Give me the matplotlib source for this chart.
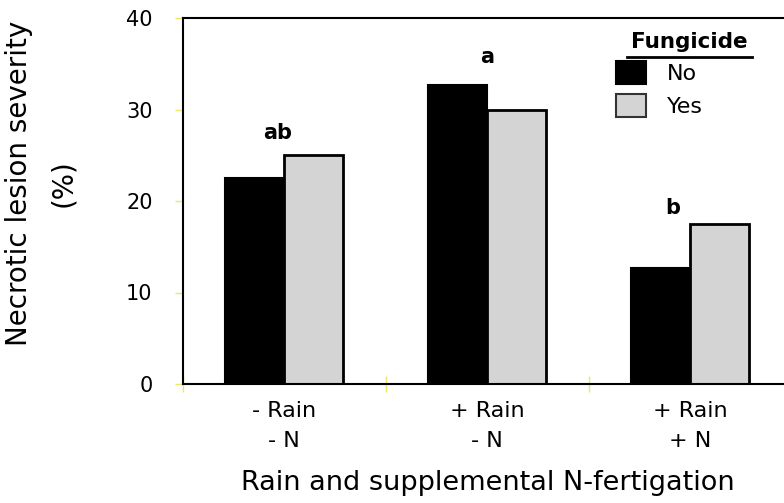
import numpy as np
import matplotlib.pyplot as plt
from matplotlib.patches import Patch

plt.rcParams['font.family'] = ['DejaVu Sans']

# data
groups = ["- Rain\n- N", "+ Rain\n- N", "+ Rain\n+ N"]
no_fungicide = [22.5, 32.7, 12.7]
yes_fungicide = [25.0, 30.0, 17.5]
letters = ["ab", "a", "b"]
letter_y = [26.3, 34.6, 18.1]
y_ticks = [0, 10, 20, 30, 40]

W, H = 784, 503
fig = plt.figure(figsize=(W / 100, H / 100), dpi=100)
ax = fig.add_axes([182.5 / W, (H - 384) / H, 609 / W, 366 / H])

x = np.arange(len(groups)) + 0.5
bw = 0.29
ax.bar(x - bw / 2, no_fungicide, bw, color="black", edgecolor="black", lw=1.5)
ax.bar(x + bw / 2, yes_fungicide, bw, color="#d4d4d4", edgecolor="black", lw=2)

letter_dx = [-0.03, 0.0, -0.085]
for xi, dx, lab, ly in zip(x, letter_dx, letters, letter_y):
    ax.text(xi + dx, ly, lab, ha="center", va="bottom", fontsize=15, fontweight="bold")

ax.set_xlim(0, 3)
ax.set_ylim(0, 40)
ax.set_yticks(y_ticks)
ax.tick_params(axis="y", direction="out", length=5.5, width=1, color="#e8e86a",
               pad=16, labelsize=15)
ax.set_xticks([0, 1, 2, 3])
ax.set_xticklabels([])
ax.tick_params(axis="x", which="major", direction="inout", length=12, width=1,
               color="#e8e86a")
ax.set_xticks(x, minor=True)
ax.set_xticklabels(groups, minor=True, fontsize=16, linespacing=1.66)
ax.tick_params(axis="x", which="minor", length=0, pad=12)

for side in ["left", "bottom", "top"]:
    ax.spines[side].set_linewidth(1.5)
    ax.spines[side].set_color("black")
ax.spines["right"].set_visible(False)

fig.text(41 / W, (H - 183) / H, "Necrotic lesion severity\n(%)", rotation=90,
         ha="center", va="center", fontsize=20, linespacing=1.7)
fig.text(488 / W, 13 / H, "Rain and supplemental N-fertigation",
         ha="center", va="baseline", fontsize=19.5)

# legend
handles = [Patch(facecolor="black", edgecolor="black", lw=1.5),
           Patch(facecolor="#d4d4d4", edgecolor="#333333", lw=1.5)]
fig.legend(handles, ["No", "Yes"], loc="upper left",
           bbox_to_anchor=(616 / W, (H - 61) / H), bbox_transform=fig.transFigure,
           frameon=False, fontsize=16, handlelength=1.35, handleheight=1.2,
           handletextpad=0.95, labelspacing=0.45, borderpad=0, borderaxespad=0)
fig.text(689 / W, (H - 42) / H, "Fungicide", ha="center", va="center",
         fontsize=15.5, fontweight="bold")
fig.add_artist(plt.Line2D([627 / W, 752 / W], [(H - 57) / H] * 2, color="black", lw=2))

fig.savefig("out.png", dpi=100)
